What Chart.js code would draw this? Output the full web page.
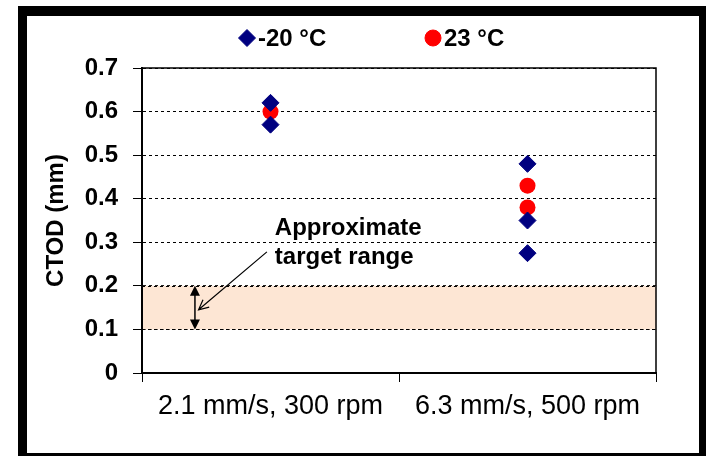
<!DOCTYPE html>
<html>
<head>
<meta charset="utf-8">
<script src="https://cdn.jsdelivr.net/npm/chart.js@4.4.0/dist/chart.umd.min.js"></script>
<style>
  html, body { margin: 0; padding: 0; background: #fff; }
  #wrap { position: relative; width: 706px; height: 456px; overflow: hidden; }
  #chart { position: absolute; left: 0; top: 0; }
  #frame {
    position: absolute; left: 18px; top: 6px; width: 688px; height: 450px;
    box-sizing: border-box; border-style: solid; border-color: #000;
    border-width: 10px 7px 3px 9px; pointer-events: none;
  }
</style>
</head>
<body>
<div id="wrap">
  <canvas id="chart" width="706" height="456"></canvas>
  <div id="frame"></div>
</div>
<script>
// categories on the x axis
const categories = ['2.1 mm/s, 300 rpm', '6.3 mm/s, 500 rpm'];

// -20 °C series (category index, CTOD)
const coldCats = [0, 0, 1, 1, 1];
const coldValues = [0.62, 0.57, 0.48, 0.35, 0.275];

// 23 °C series
const warmCats = [0, 1, 1];
const warmValues = [0.60, 0.43, 0.38];

const seriesNames = ['-20 \u00B0C', '23 \u00B0C'];
const yTickValues = [0, 0.1, 0.2, 0.3, 0.4, 0.5, 0.6, 0.7];
const targetRange = [0.1, 0.2];
const noteLines = ['Approximate', 'target range'];

const FONT = "'Liberation Sans', Arial, sans-serif";

function toPoints(cats, vals) {
    return vals.map((v, i) => ({ x: categories[cats[i]], y: v }));
}

// shaded target band, plot frame and annotation
const extras = {
    id: 'extras',
    beforeDatasetsDraw(chart) {
        const { ctx, chartArea, scales } = chart;
        const yTop = scales.y.getPixelForValue(targetRange[1]);
        const yBot = scales.y.getPixelForValue(targetRange[0]);
        ctx.save();
        ctx.fillStyle = '#fde6d4';
        ctx.fillRect(chartArea.left + 1, yTop, chartArea.right - chartArea.left - 1, yBot - yTop);
        // re-draw the two dashed lines over the band
        ctx.strokeStyle = '#000';
        ctx.lineWidth = 1;
        ctx.setLineDash([3, 3]);
        [yTop, yBot].forEach(y => {
            ctx.beginPath();
            ctx.moveTo(chartArea.left, Math.round(y) + 0.5);
            ctx.lineTo(chartArea.right, Math.round(y) + 0.5);
            ctx.stroke();
        });
        ctx.setLineDash([]);
        // top and right edges of the plot
        ctx.lineWidth = 1.5;
        ctx.beginPath();
        ctx.moveTo(chartArea.left, chartArea.top);
        ctx.lineTo(chartArea.right, chartArea.top);
        ctx.lineTo(chartArea.right, chartArea.bottom);
        ctx.stroke();

        // double arrow across the target range
        const x = scales.x.getPixelForValue(-0.294);
        const head = 7;
        ctx.lineWidth = 1.5;
        ctx.beginPath();
        ctx.moveTo(x, yTop + head);
        ctx.lineTo(x, yBot - head);
        ctx.stroke();
        ctx.fillStyle = '#000';
        ctx.beginPath();
        ctx.moveTo(x, yTop); ctx.lineTo(x - 5, yTop + head + 3); ctx.lineTo(x + 5, yTop + head + 3); ctx.closePath();
        ctx.fill();
        ctx.beginPath();
        ctx.moveTo(x, yBot); ctx.lineTo(x - 5, yBot - head - 3); ctx.lineTo(x + 5, yBot - head - 3); ctx.closePath();
        ctx.fill();

        // pointer arrow from the note
        const x1 = scales.x.getPixelForValue(-0.014), y1 = scales.y.getPixelForValue(0.278);
        const x2 = scales.x.getPixelForValue(-0.28), y2 = scales.y.getPixelForValue(0.145);
        ctx.lineWidth = 1.2;
        ctx.beginPath();
        ctx.moveTo(x1, y1);
        ctx.lineTo(x2, y2);
        const ang = Math.atan2(y2 - y1, x2 - x1);
        ctx.moveTo(x2 - 11 * Math.cos(ang - 0.45), y2 - 11 * Math.sin(ang - 0.45));
        ctx.lineTo(x2, y2);
        ctx.lineTo(x2 - 11 * Math.cos(ang + 0.45), y2 - 11 * Math.sin(ang + 0.45));
        ctx.stroke();

        // note text
        ctx.font = 'bold 24px ' + FONT;
        ctx.textAlign = 'left';
        ctx.textBaseline = 'middle';
        const tx = scales.x.getPixelForValue(0.017);
        ctx.fillText(noteLines[0], tx, scales.y.getPixelForValue(0.333));
        ctx.fillText(noteLines[1], tx, scales.y.getPixelForValue(0.266));
        ctx.restore();
    },
    afterDraw(chart) {
        // legend drawn above the plot
        const { ctx } = chart;
        const spots = [{ x: 247, y: 38 }, { x: 433, y: 38 }];
        ctx.save();
        chart.data.datasets.forEach((ds, i) => {
            const s = spots[i];
            ctx.fillStyle = ds.pointBackgroundColor;
            ctx.strokeStyle = ds.pointBorderColor;
            ctx.lineWidth = 1;
            Chart.helpers.drawPoint(ctx, {
                pointStyle: ds.pointStyle,
                radius: ds.pointRadius,
                rotation: 0,
                borderWidth: 1
            }, s.x, s.y);
            ctx.fillStyle = '#000';
            ctx.font = 'bold 24px ' + FONT;
            ctx.textAlign = 'left';
            ctx.textBaseline = 'middle';
            ctx.fillText(ds.label, s.x + 11, s.y + 1);
        });
        ctx.restore();
    }
};

new Chart(document.getElementById('chart'), {
    type: 'scatter',
    data: {
        labels: categories,
        datasets: [
            {
                label: seriesNames[0],
                data: toPoints(coldCats, coldValues),
                pointStyle: 'rectRot',
                pointRadius: 8.5,
                pointBackgroundColor: '#000080',
                pointBorderColor: '#000080',
                pointBorderWidth: 1
            },
            {
                label: seriesNames[1],
                data: toPoints(warmCats, warmValues),
                pointStyle: 'circle',
                pointRadius: 8,
                pointBackgroundColor: '#ff0000',
                pointBorderColor: '#ff0000',
                pointBorderWidth: 0
            }
        ]
    },
    options: {
        responsive: false,
        animation: false,
        layout: { padding: { left: 35, right: 50, top: 68, bottom: 0 } },
        plugins: {
            legend: { display: false },
            tooltip: { enabled: false }
        },
        scales: {
            x: {
                type: 'category',
                labels: categories,
                offset: true,
                grid: { offset: true, drawOnChartArea: false, color: '#000', tickLength: 9 },
                border: { color: '#000', width: 2 },
                ticks: { color: '#000', padding: 8, font: { family: FONT, size: 27 } },
                afterFit(scale) { scale.height = 456 - 373; }
            },
            y: {
                min: 0,
                max: 0.7,
                afterBuildTicks(scale) { scale.ticks = yTickValues.map(v => ({ value: v })); },
                grid: { color: '#000', lineWidth: 1, tickLength: 9, tickBorderDash: [] },
                border: { color: '#000', width: 2, dash: [3, 3] },
                ticks: {
                    color: '#000',
                    padding: 15,
                    font: { family: FONT, size: 24, weight: 'bold' },
                    callback: v => String(Math.round(v * 10) / 10)
                },
                title: {
                    display: true,
                    text: 'CTOD (mm)',
                    color: '#000',
                    padding: { top: 7, bottom: 0 },
                    font: { family: FONT, size: 24, weight: 'bold' }
                },
                afterFit(scale) { scale.width = 107; }
            }
        }
    },
    plugins: [extras]
});
</script>
</body>
</html>
